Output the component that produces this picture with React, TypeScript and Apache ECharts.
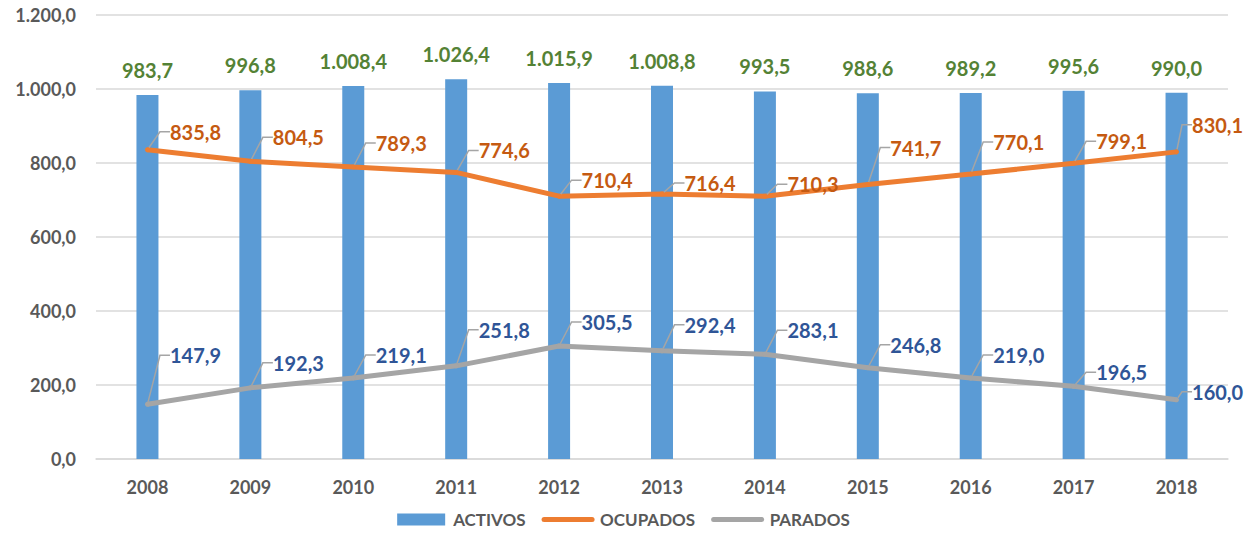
import React, { useEffect, useRef } from "react";
import * as echarts from "echarts";

const years = ["2008", "2009", "2010", "2011", "2012", "2013", "2014", "2015", "2016", "2017", "2018"];
const activos = [983.7, 996.8, 1008.4, 1026.4, 1015.9, 1008.8, 993.5, 988.6, 989.2, 995.6, 990.0];
const ocupados = [835.8, 804.5, 789.3, 774.6, 710.4, 716.4, 710.3, 741.7, 770.1, 799.1, 830.1];
const parados = [147.9, 192.3, 219.1, 251.8, 305.5, 292.4, 283.1, 246.8, 219.0, 196.5, 160.0];
const yTicks = { min: 0, max: 1200, interval: 200 };

// label nudges (pixels) for the callout labels, per year
const ocupadosLabelDy = [-18, -24, -24, -22, -16, -11, -12, -37, -32, -22, -27];
const paradosLabelDy = [-49, -25, -23, -36, -24, -26, -24, -23, -23, -14, -8];

const FONT = "Lato, 'Open Sans', sans-serif";

function fmt(v: number): string {
  const s = v.toFixed(1);
  const [i, d] = s.split(".");
  const ii = i.replace(/\B(?=(\d{3})+(?!\d))/g, ".");
  return ii + "," + d;
}

export default function App() {
  const ref = useRef<HTMLDivElement>(null);
  useEffect(() => {
    if (!ref.current) return;
    const chart = echarts.init(ref.current, null, { renderer: "svg" });
    const last = years.length - 1;
    const lineLabel = (color: string) => ({
      show: true,
      position: "right" as const,
      distance: 5,
      padding: [0, 0, 0, 7],
      color,
      fontFamily: FONT,
      fontWeight: "bold" as const,
      fontSize: 20,
      formatter: (p: any) => fmt(p.value),
    });
    const labelLine = {
      show: true,
      length2: 10,
      lineStyle: { color: "#A5A5A5", width: 1.5 },
    };
    const layout = (dys: number[]) => (p: any) => ({
      dx: p.dataIndex === last ? 1 : 8,
      dy: dys[p.dataIndex],
    });
    chart.setOption({
      animation: false,
      textStyle: { fontFamily: FONT },
      grid: { left: 96, right: 19, top: 15, bottom: 76 },
      legend: {
        bottom: 2,
        left: "center",
        itemWidth: 48,
        itemHeight: 12,
        itemGap: 16,
        textStyle: { color: "#595959", fontSize: 17, fontWeight: "bold", fontFamily: FONT, padding: [0, 0, 0, 3] },
        data: [
          { name: "ACTIVOS", icon: "rect" },
          { name: "OCUPADOS", itemStyle: { opacity: 0 }, lineStyle: { width: 5, cap: "round" } },
          { name: "PARADOS", itemStyle: { opacity: 0 }, lineStyle: { width: 5, cap: "round" } },
        ],
      },
      xAxis: {
        type: "category",
        data: years,
        axisTick: { show: false },
        axisLine: { lineStyle: { color: "#D9D9D9", width: 1.5 } },
        axisLabel: { color: "#595959", fontSize: 18, fontWeight: "bold", fontFamily: FONT, margin: 19 },
      },
      yAxis: {
        type: "value",
        min: yTicks.min,
        max: yTicks.max,
        interval: yTicks.interval,
        axisLine: { show: false },
        axisTick: { show: false },
        splitLine: { lineStyle: { color: "#D9D9D9", width: 1.5 } },
        axisLabel: {
          color: "#595959",
          fontSize: 18,
          fontWeight: "bold",
          fontFamily: FONT,
          margin: 20,
          formatter: (v: number) => fmt(v),
        },
      },
      series: [
        {
          name: "ACTIVOS",
          type: "bar",
          data: activos,
          barWidth: 22,
          itemStyle: { color: "#5B9BD5" },
          label: {
            show: true,
            position: "top",
            distance: 15,
            color: "#548235",
            fontFamily: FONT,
            fontWeight: "bold",
            fontSize: 20,
            formatter: (p: any) => fmt(p.value),
          },
        },
        {
          name: "OCUPADOS",
          type: "line",
          data: ocupados,
          symbol: "circle",
          symbolSize: 5,
          itemStyle: { color: "#ED7D31" },
          lineStyle: { color: "#ED7D31", width: 5 },
          label: lineLabel("#C55A11"),
          labelLine,
          labelLayout: layout(ocupadosLabelDy),
        },
        {
          name: "PARADOS",
          type: "line",
          data: parados,
          symbol: "circle",
          symbolSize: 5,
          itemStyle: { color: "#A5A5A5" },
          lineStyle: { color: "#A5A5A5", width: 5 },
          label: lineLabel("#2F5597"),
          labelLine,
          labelLayout: layout(paradosLabelDy),
        },
      ],
    });
    return () => chart.dispose();
  }, []);
  return <div ref={ref} style={{ width: 1247, height: 535, position: "absolute", left: 0, top: 0 }} />;
}
